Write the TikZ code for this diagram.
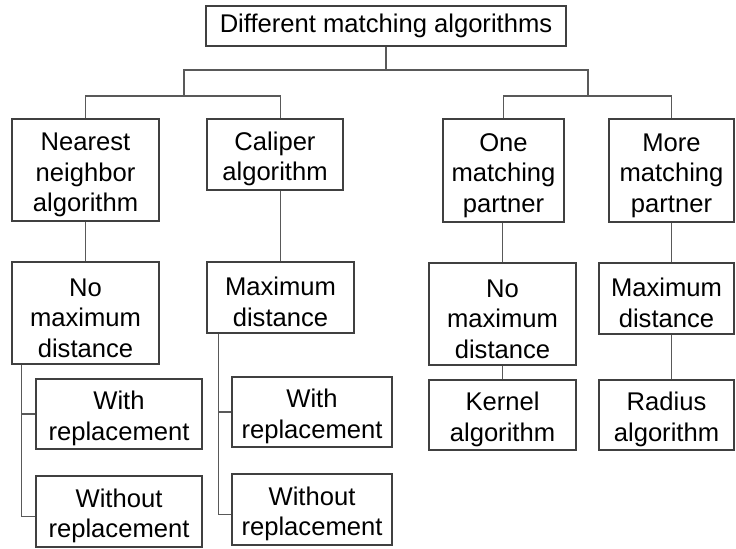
\documentclass[tikz,border=0pt]{standalone}
\usepackage{fontspec}
\setmainfont{Liberation Sans}
\usepackage{tikz}
\newcommand{\lowfirst}{\rule{0pt}{13.8pt}}
\tikzstyle{algbox} = [rectangle, draw=black!75, line width=0.6pt, inner sep=0pt, align=center, font=\fontsize{12.8}{15.25}\selectfont]
\tikzstyle{link} = [draw=black!65, line width=0.6pt]
\begin{document}
\begin{tikzpicture}[x=0.5pt, y=-0.5pt]
		\useasboundingbox (0,0) rectangle (736,549);
		% first two levels
		\node (root) [algbox, minimum width=180pt, minimum height=20pt] at (386,26) {Different matching algorithms};
		\node (nn) [algbox, minimum width=73.5pt, minimum height=51pt] at (85.5,170) {\lowfirst Nearest\\neighbor\\algorithm};
		\node (cal) [algbox, minimum width=68pt, minimum height=35.5pt] at (275,154.5) {\lowfirst Caliper\\algorithm};
		\node (one) [algbox, minimum width=60.5pt, minimum height=51.5pt] at (503.5,170.5) {\lowfirst One\\matching\\partner};
		\node (more) [algbox, minimum width=62.5pt, minimum height=51.5pt] at (671.5,170.5) {\lowfirst More\\matching\\partner};
		% distance level
		\node (nomax1) [algbox, minimum width=73.5pt, minimum height=51pt] at (85.5,313) {\lowfirst No\\maximum\\distance};
		\node (max1) [algbox, minimum width=73.5pt, minimum height=35.5pt] at (280.5,297.5) {\lowfirst Maximum\\distance};
		\node (nomax2) [algbox, minimum width=73.5pt, minimum height=51pt] at (502.5,314) {\lowfirst No\\maximum\\distance};
		\node (max2) [algbox, minimum width=67.5pt, minimum height=35.5pt] at (666.5,298.5) {\lowfirst Maximum\\distance};
		% leaves
		\node (with1) [algbox, minimum width=83pt, minimum height=35pt] at (119,414) {\lowfirst With\\replacement};
		\node (without1) [algbox, minimum width=83pt, minimum height=35.5pt] at (119,511.5) {\lowfirst Without\\replacement};
		\node (with2) [algbox, minimum width=80pt, minimum height=35pt] at (312,412) {\lowfirst With\\replacement};
		\node (without2) [algbox, minimum width=80pt, minimum height=35.5pt] at (312,509.5) {\lowfirst Without\\replacement};
		\node (kernel) [algbox, minimum width=73.5pt, minimum height=35pt] at (502.5,415) {\lowfirst Kernel\\algorithm};
		\node (radius) [algbox, minimum width=67.5pt, minimum height=35pt] at (666.5,415) {\lowfirst Radius\\algorithm};
		% connectors
		\coordinate (split) at (386,70);
		\coordinate (hubL) at (184,96);
		\coordinate (hubR) at (588,96);
		\draw [link] (root) -- (split);
		\draw [link] (hubL) |- (split) -| (hubR);
		\draw [link] (nn) |- (hubL) -| (cal.north -| max1);
		\draw [link] (one) |- (hubR) -| (more);
		\draw [link] (nn) -- (nomax1);
		\draw [link] (max1.north) -- (max1.north |- cal.south);
		\draw [link] (nomax2.north) -- (nomax2.north |- one.south);
		\draw [link] (nomax2) -- (kernel);
		\draw [link] (more.south) -- (more.south |- max2.north);
		\draw [link] (more.south |- max2.south) -- (more.south |- radius.north);
		\draw [link] ([xshift=-7pt]with1.west |- nomax1.south) |- ([yshift=-2.5pt]without1.west);
		\draw [link] ([xshift=-7pt]with1.west) -- (with1.west);
		\draw [link] ([xshift=-6.5pt]with2.west |- max1.south) |- ([yshift=-2.5pt]without2.west);
		\draw [link] ([xshift=-6.5pt]with2.west) -- (with2.west);
	\end{tikzpicture}
\end{document}
